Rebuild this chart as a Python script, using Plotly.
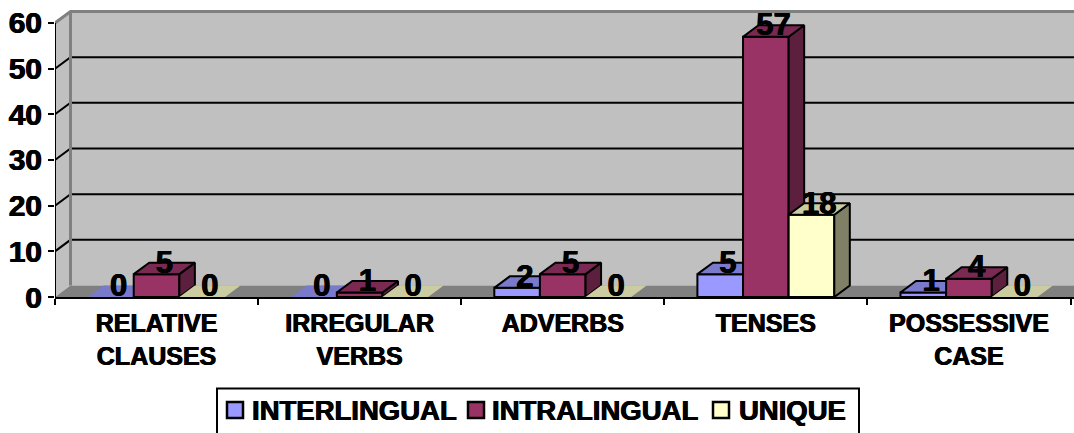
import plotly.graph_objects as go

categories = ["RELATIVE<br>CLAUSES", "IRREGULAR<br>VERBS", "ADVERBS", "TENSES", "POSSESSIVE<br>CASE"]
series_names = ["INTERLINGUAL", "INTRALINGUAL", "UNIQUE"]
interlingual = [0, 0, 2, 5, 1]
intralingual = [5, 1, 5, 57, 4]
unique = [0, 0, 0, 18, 0]
y_ticks = [0, 10, 20, 30, 40, 50, 60]

FRONT = ["#9999FF", "#993366", "#FFFFCC"]
TOP = ["#7A7ACC", "#7A2952", "#CCCCA3"]
SIDE = ["#5C5C99", "#5C1F3D", "#808066"]
FONT = "Liberation Sans"
HEAVY = "0.5px 0 0 #000, -0.5px 0 0 #000"

W, H = 1074, 433
L, T, B = 55, 10, 136
CAT_PX = 203.1
UNIT_PX = 4.567
x_max = (W - L) / CAT_PX
y_max = (H - T - B) / UNIT_PX
DX = 15.5 / CAT_PX      # depth of the 3D box, in axis units
DY = 11.5 / UNIT_PX
BAR_W = 1 / 4.45
LABEL_DROP = 2.5 / UNIT_PX


def poly(xs, ys, fill, line="black", width=2):
    return go.Scatter(x=xs, y=ys, mode="lines", fill="toself", fillcolor=fill,
                      line=dict(color=line, width=width), showlegend=False,
                      hoverinfo="skip", cliponaxis=False)


def seg(xs, ys, color, width):
    return go.Scatter(x=xs, y=ys, mode="lines", line=dict(color=color, width=width),
                      showlegend=False, hoverinfo="skip", cliponaxis=False)


def px(p):
    return (p - L) / (W - L)


def py(p):
    return (H - B - p) / (H - T - B)


fig = go.Figure()
wall_top = 60 + DY
# left wall, back wall, floor
fig.add_trace(poly([0, DX, DX, 0, 0], [0, DY, wall_top, 60, 0], "#C0C0C0", "#C0C0C0", 0))
fig.add_trace(poly([DX, x_max, x_max, DX, DX], [DY, DY, wall_top, wall_top, DY], "#C0C0C0", "#C0C0C0", 0))
fig.add_trace(poly([0, x_max, x_max, DX, 0], [0, 0, DY, DY, 0], "#808080", "#808080", 0))
# gridlines on the wall
for v in y_ticks[1:-1]:
    fig.add_trace(seg([0, DX, x_max], [v, v + DY, v + DY], "black", 2))
# wall edges
fig.add_trace(seg([DX, DX], [DY, wall_top], "#808080", 3))
fig.add_trace(seg([0, DX, x_max], [60, wall_top, wall_top], "#808080", 3))
# value axis line
fig.add_trace(seg([0, 0], [0, 60], "black", 2))

series = [interlingual, intralingual, unique]
label_x, label_y, label_text = [], [], []
for c in range(len(categories)):
    center = c + 0.5
    for s, values in enumerate(series):
        v = values[c]
        x0 = center + (s - 1.5) * BAR_W
        x1 = x0 + BAR_W
        w = 2 if v > 0 else 0
        if v > 0:
            fig.add_trace(poly([x0, x1, x1, x0, x0], [0, 0, v, v, 0], FRONT[s]))
            fig.add_trace(poly([x1, x1 + DX, x1 + DX, x1, x1], [0, DY, v + DY, v, 0], SIDE[s]))
        fig.add_trace(poly([x0, x1, x1 + DX, x0 + DX, x0], [v, v, v + DY, v + DY, v], TOP[s],
                           "black", w))
        label_x.append((x0 + x1) / 2 + DX / 2)
        label_y.append(v + DY - LABEL_DROP)
        label_text.append(str(v))

fig.add_trace(go.Scatter(x=label_x, y=label_y, text=label_text, mode="text",
                         textposition="middle center", cliponaxis=False,
                         textfont=dict(family=FONT, size=31, color="black", weight=700, shadow=HEAVY),
                         showlegend=False, hoverinfo="skip"))

# legend box, swatches and names
shapes = [dict(type="rect", xref="paper", yref="paper", x0=px(217), x1=px(859), y0=py(445), y1=py(388.5),
               line=dict(color="black", width=2), fillcolor="white", layer="above")]
annotations = []
swatch_x = [235, 476, 721]
text_x = [250, 490, 737]
for s, name in enumerate(series_names):
    shapes.append(dict(type="rect", xref="paper", yref="paper",
                       x0=px(swatch_x[s] - 8), x1=px(swatch_x[s] + 8), y0=py(418), y1=py(402),
                       line=dict(color="black", width=2.5), fillcolor=FRONT[s], layer="above"))
    annotations.append(dict(xref="paper", yref="paper", x=px(text_x[s]), y=py(410),
                            xanchor="left", yanchor="middle", showarrow=False, text=name,
                            font=dict(family=FONT, size=27.5, color="black", weight=700, shadow=HEAVY)))

fig.update_layout(
    width=W, height=H,
    margin=dict(l=L, r=0, t=T, b=B, autoexpand=False),
    paper_bgcolor="white", plot_bgcolor="white",
    showlegend=False,
    shapes=shapes,
    annotations=annotations,
    xaxis=dict(range=[0, x_max], tickvals=[c + 0.5 for c in range(len(categories))],
               ticktext=categories, ticks="", showgrid=False, zeroline=False,
               showline=True, linecolor="black", linewidth=2,
               tickfont=dict(family=FONT, size=25, color="black", weight=700, shadow=HEAVY),
               ticklabelstandoff=3,
               minor=dict(tickvals=list(range(len(categories) + 1)), ticks="outside",
                          ticklen=6, tickwidth=2, tickcolor="black", showgrid=False)),
    yaxis=dict(range=[0, y_max], tickvals=y_ticks, ticks="outside", ticklen=6, tickwidth=2,
               tickcolor="black", showgrid=False, zeroline=False, showline=False,
               tickfont=dict(family=FONT, size=30, color="black", weight=700, shadow=HEAVY)),
)

fig.write_html("out.html", post_script="document.body.style.margin='0';", config={"displayModeBar": False})
